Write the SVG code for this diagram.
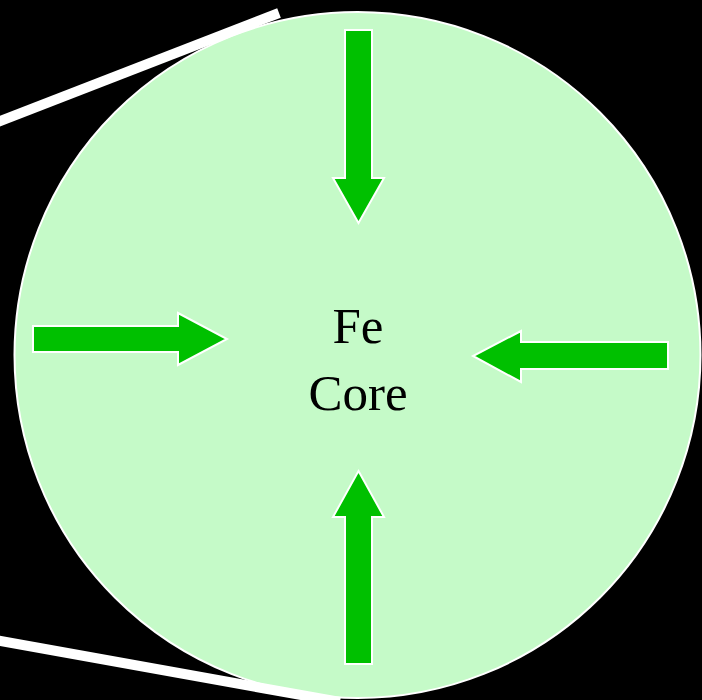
<svg xmlns="http://www.w3.org/2000/svg" width="702" height="700" viewBox="0 0 702 700">
<style>
.arrow{fill:#00c000;stroke:#ffffff;stroke-width:2;stroke-linejoin:miter}
.lbl{font-family:"Liberation Serif","Times New Roman",serif;font-size:51px;fill:#000;text-anchor:middle}
</style>
<rect x="0" y="0" width="702" height="700" fill="#000"/>
<g id="core">
<circle cx="357.5" cy="355" r="343" fill="#c5fac8" stroke="#ffffff" stroke-width="2"/>
<text class="lbl" x="358" y="343">Fe</text>
<text class="lbl" x="358" y="410">Core</text>
</g>
<g id="connectors">
<line x1="-5" y1="123" x2="279" y2="13" stroke="#fff" stroke-width="10"/>
<line x1="-5" y1="640" x2="340" y2="702" stroke="#fff" stroke-width="10"/>
<polygon id="arrow-top" class="arrow" points="345,30 372,30 372,178 384,178 358.5,223 333,178 345,178"/>
<polygon id="arrow-left" class="arrow" points="33,326 178,326 178,313 227,339 178,365 178,352 33,352"/>
<polygon id="arrow-right" class="arrow" points="668,342 521,342 521,331 473,356 521,382 521,369 668,369"/>
<polygon id="arrow-bottom" class="arrow" points="345,664 372,664 372,517 384,517 358.5,471 333,517 345,517"/>
</g>
</svg>
